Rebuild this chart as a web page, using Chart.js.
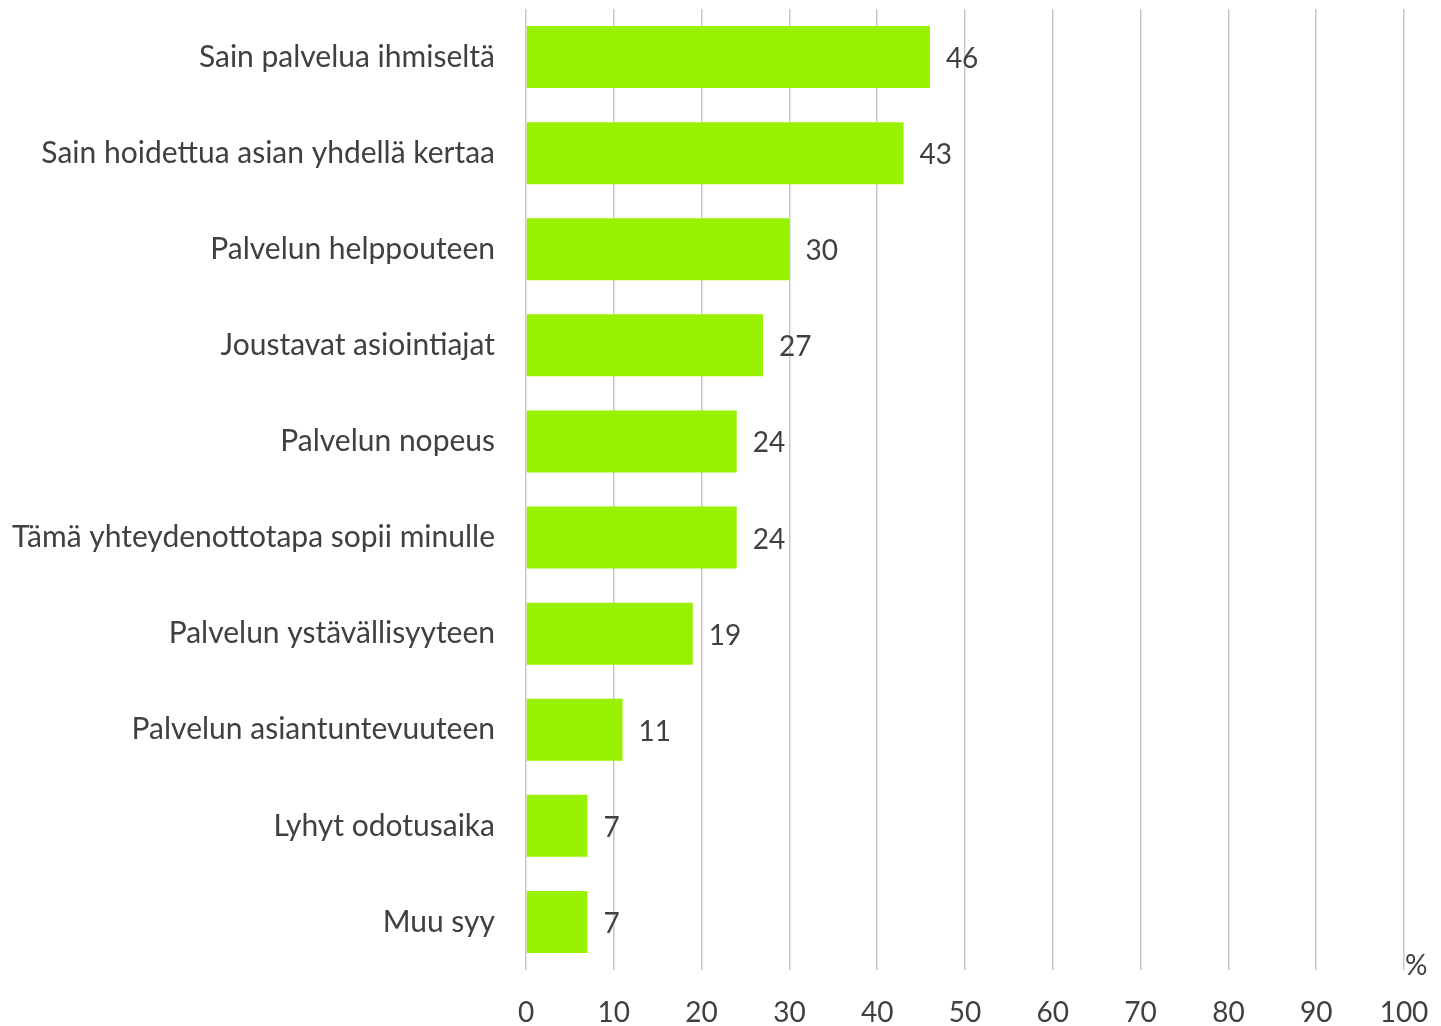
<!DOCTYPE html>
<html>
<head>
<meta charset="utf-8">
<script src="https://cdn.jsdelivr.net/npm/chart.js@4/dist/chart.umd.min.js"></script>
<style>
  html, body { margin: 0; padding: 0; background: #fff; }
  #wrap { width: 1441px; height: 1026px; }
</style>
</head>
<body>
<div id="wrap"><canvas id="chart" width="1441" height="1026"></canvas></div>
<script>
// data
const categories = [
  'Sain palvelua ihmiseltä',
  'Sain hoidettua asian yhdellä kertaa',
  'Palvelun helppouteen',
  'Joustavat asiointiajat',
  'Palvelun nopeus',
  'Tämä yhteydenottotapa sopii minulle',
  'Palvelun ystävällisyyteen',
  'Palvelun asiantuntevuuteen',
  'Lyhyt odotusaika',
  'Muu syy'
];
const values = [46, 43, 30, 27, 24, 24, 19, 11, 7, 7];
const xTicks = [0, 10, 20, 30, 40, 50, 60, 70, 80, 90, 100];
const unitLabel = '%';

const textColor = '#404040';
const fontFamily = 'Lato, "Open Sans", sans-serif';

// arvot palkkien perään
const valueLabels = {
  id: 'valueLabels',
  afterDatasetsDraw(chart) {
    const ctx = chart.ctx;
    const meta = chart.getDatasetMeta(0);
    ctx.save();
    ctx.fillStyle = textColor;
    ctx.font = '28px ' + fontFamily;
    ctx.textAlign = 'left';
    ctx.textBaseline = 'middle';
    meta.data.forEach((bar, i) => {
      ctx.fillText(String(values[i]), bar.x + 16, bar.y + 2);
    });
    // prosenttimerkki
    ctx.fillText(unitLabel, chart.chartArea.right + 1, chart.chartArea.bottom - 4);
    ctx.restore();
  }
};

new Chart(document.getElementById('chart').getContext('2d'), {
  type: 'bar',
  data: {
    labels: categories,
    datasets: [{
      data: values,
      backgroundColor: '#97F100',
      borderWidth: 0,
      barPercentage: 0.645,
      categoryPercentage: 1
    }]
  },
  options: {
    indexAxis: 'y',
    responsive: false,
    animation: false,
    layout: { padding: { top: 9, right: 37, left: 0, bottom: 0 } },
    plugins: {
      legend: { display: false },
      tooltip: { enabled: false }
    },
    scales: {
      x: {
        min: 0,
        max: 100,
        afterBuildTicks(scale) {
          scale.ticks = xTicks.map(v => ({ value: v }));
        },
        afterFit(scale) {
          scale.height = 56;
          scale.paddingLeft = 0;
          scale.paddingRight = 0;
        },
        border: { display: false },
        grid: { color: '#c8c8c8', lineWidth: 1.5, drawTicks: false },
        ticks: {
          color: textColor,
          font: { family: fontFamily, size: 28 },
          padding: 26
        }
      },
      y: {
        afterFit(scale) {
          scale.width = 526;
          scale.paddingTop = 0;
          scale.paddingBottom = 0;
        },
        border: { display: false },
        grid: { display: false, drawTicks: false },
        ticks: {
          color: textColor,
          font: { family: fontFamily, size: 30 },
          padding: 31
        }
      }
    }
  },
  plugins: [valueLabels]
});
</script>
</body>
</html>
